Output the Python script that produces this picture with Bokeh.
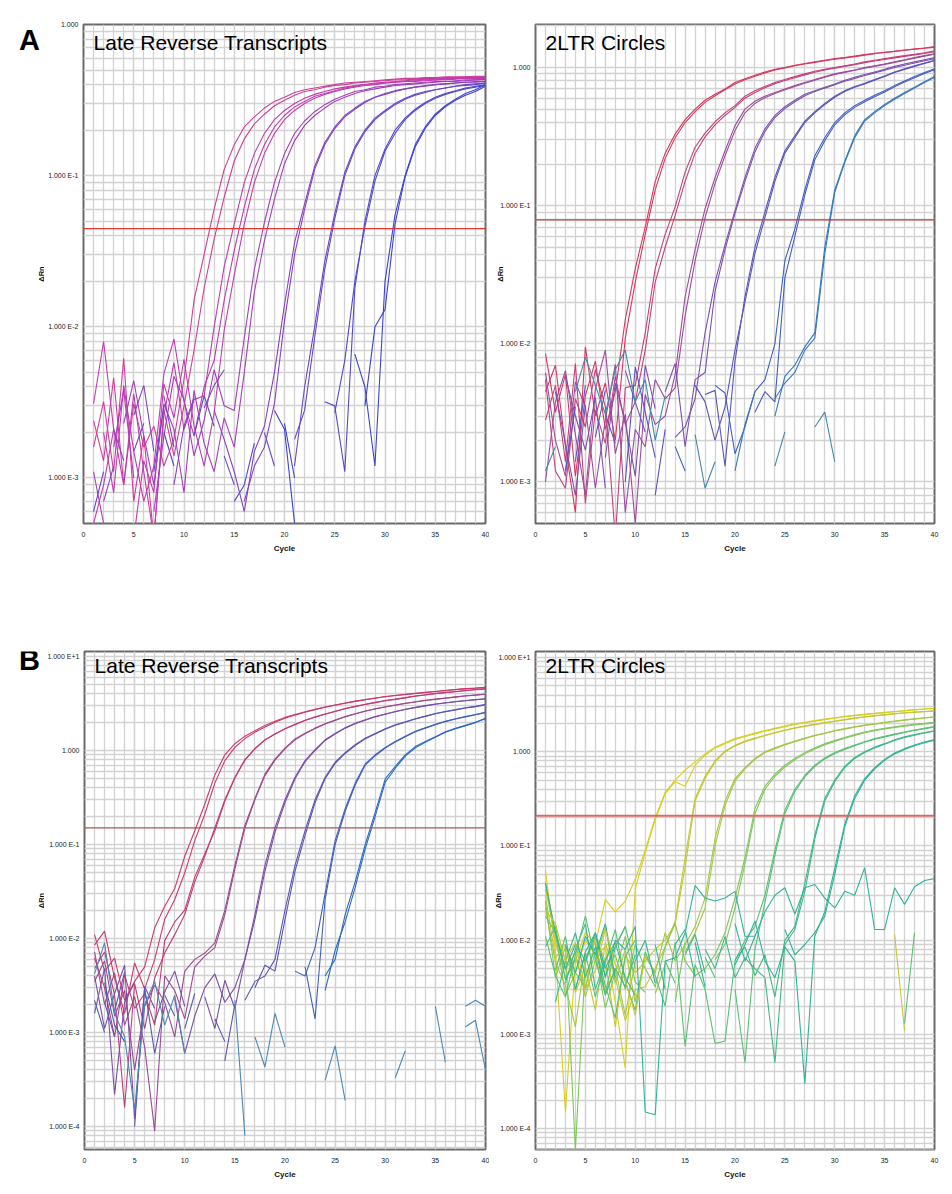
import math
from bokeh.plotting import figure
from bokeh.layouts import column, row
from bokeh.models import Range1d, FixedTicker, Span, Label, CustomJSTickFormatter
from bokeh.embed import file_html
from bokeh.resources import INLINE

N = float("nan")
CYCLES = list(range(1, 41))
X_TICKS = [0, 5, 10, 15, 20, 25, 30, 35, 40]

# ---------------- Panel A : Late Reverse Transcripts ----------------
A_LRT_CURVES = [
    [0.0024, 0.0013, 0.0046, 0.0009, 0.0031, 0.0016, 0.0022, 0.0012, 0.0018, 0.0045,
     0.015, 0.030, 0.060, 0.110, 0.160, 0.210, 0.245, 0.280, 0.310, 0.330,
     0.355, 0.370, 0.380, 0.390, 0.400, 0.410, 0.415, 0.420, 0.425, 0.430,
     0.435, 0.440, 0.440, 0.445, 0.445, 0.450, 0.450, 0.450, 0.455, 0.455],
    [0.0016, 0.0032, 0.0011, 0.0062, 0.0007, 0.0019, 0.0004, 0.0028, 0.0014, 0.0030,
     0.0070, 0.018, 0.038, 0.072, 0.125, 0.175, 0.220, 0.255, 0.290, 0.315,
     0.340, 0.360, 0.370, 0.385, 0.395, 0.400, 0.410, 0.415, 0.420, 0.425,
     0.430, 0.430, 0.435, 0.440, 0.440, 0.445, 0.445, 0.450, 0.450, 0.450],
    [0.0031, 0.0080, 0.0021, 0.0009, 0.0036, 0.0011, 0.0004, 0.0026, 0.0058, 0.0021,
     0.0033, 0.0035, 0.010, 0.025, 0.048, 0.090, 0.140, 0.190, 0.235, 0.270,
     0.300, 0.325, 0.345, 0.360, 0.375, 0.385, 0.395, 0.400, 0.410, 0.415,
     0.420, 0.425, 0.430, 0.435, 0.435, 0.440, 0.440, 0.445, 0.445, 0.450],
    [N, 0.0020, 0.0008, 0.0041, 0.0015, 0.0007, 0.0012, 0.0049, 0.0083, 0.0032,
     0.0019, 0.0040, 0.0060, 0.015, 0.032, 0.062, 0.110, 0.160, 0.210, 0.250,
     0.285, 0.310, 0.335, 0.350, 0.365, 0.380, 0.390, 0.400, 0.405, 0.410,
     0.415, 0.420, 0.425, 0.430, 0.430, 0.435, 0.440, 0.440, 0.445, 0.445],
    [0.0005, 0.0009, 0.0021, N, 0.0004, 0.0013, 0.0008, 0.0042, 0.0025, 0.0061,
     0.0022, 0.0012, 0.0027, 0.0095, 0.022, 0.048, 0.090, 0.140, 0.190, 0.235,
     0.270, 0.300, 0.325, 0.345, 0.360, 0.375, 0.385, 0.395, 0.400, 0.410,
     0.415, 0.420, 0.420, 0.425, 0.430, 0.430, 0.435, 0.440, 0.440, 0.440],
    [N, N, 0.0016, 0.0038, 0.0010, N, 0.0006, 0.0019, 0.0047, 0.0033,
     0.0014, 0.0024, 0.0052, 0.0030, 0.0028, 0.0085, 0.024, 0.049, 0.090, 0.140,
     0.190, 0.230, 0.265, 0.295, 0.320, 0.340, 0.360, 0.370, 0.385, 0.390,
     0.400, 0.405, 0.410, 0.415, 0.420, 0.420, 0.425, 0.430, 0.430, 0.435],
    [0.0011, 0.0005, N, 0.0023, 0.0044, 0.0019, 0.0009, 0.0031, 0.0021, 0.0008,
     0.0038, 0.0017, 0.0011, 0.0025, 0.0016, 0.0050, 0.017, 0.037, 0.070, 0.120,
     0.170, 0.215, 0.250, 0.280, 0.310, 0.330, 0.350, 0.365, 0.375, 0.385,
     0.395, 0.400, 0.405, 0.410, 0.415, 0.420, 0.420, 0.425, 0.430, 0.430],
    [N, 0.0007, 0.0012, N, 0.0026, 0.0041, 0.0015, N, 0.0009, 0.0022,
     0.0034, N, 0.0028, 0.0018, 0.0011, 0.0006, 0.0015, 0.0022, 0.0050, 0.014,
     0.036, 0.065, 0.115, 0.165, 0.210, 0.250, 0.280, 0.310, 0.330, 0.350,
     0.365, 0.375, 0.385, 0.395, 0.400, 0.405, 0.410, 0.415, 0.420, 0.420],
    [0.0009, N, 0.0021, 0.0013, N, 0.0008, N, 0.0035, 0.0016, N,
     N, 0.0029, 0.0041, 0.0052, N, 0.0007, 0.0012, 0.0016, 0.0031, 0.011,
     0.030, 0.060, 0.110, 0.160, 0.205, 0.245, 0.275, 0.305, 0.330, 0.345,
     0.360, 0.375, 0.385, 0.390, 0.400, 0.405, 0.410, 0.415, 0.415, 0.420],
    [N, N, N, 0.0018, N, N, 0.0011, 0.0030, N, 0.0024,
     N, N, N, 0.0014, 0.0009, N, N, N, N, N,
     0.0012, 0.0040, 0.010, 0.027, 0.056, 0.105, 0.155, 0.200, 0.240, 0.270,
     0.300, 0.325, 0.345, 0.360, 0.370, 0.380, 0.390, 0.400, 0.405, 0.410],
    [0.0006, 0.0011, N, N, 0.0015, 0.0023, N, N, N, N,
     0.0019, 0.0035, 0.0022, N, N, N, N, 0.0020, 0.0012, N,
     0.0018, 0.0028, 0.0085, 0.024, 0.052, 0.100, 0.150, 0.195, 0.235, 0.265,
     0.295, 0.320, 0.340, 0.355, 0.370, 0.380, 0.390, 0.395, 0.400, 0.410],
    [N, N, 0.0008, N, N, 0.0013, N, N, N, 0.0027,
     N, N, N, N, 0.0007, 0.0009, 0.0017, N, N, N,
     N, N, N, 0.0032, 0.0030, 0.0011, 0.018, 0.050, 0.100, 0.150,
     0.200, 0.240, 0.275, 0.305, 0.330, 0.350, 0.365, 0.380, 0.390, 0.400],
    [N, 0.0009, N, N, N, N, N, 0.0020, 0.0012, N,
     N, N, 0.0016, N, N, N, N, 0.0021, N, N,
     N, N, N, N, 0.0027, 0.0060, 0.020, 0.046, 0.092, 0.145,
     0.190, 0.235, 0.270, 0.300, 0.325, 0.345, 0.360, 0.375, 0.385, 0.395],
    [N, N, N, N, 0.0014, N, N, N, N, N,
     0.0030, N, N, N, N, N, N, N, 0.0028, 0.0021,
     0.0005, N, N, N, N, N, 0.0066, 0.0040, 0.0012, 0.020,
     0.055, 0.100, 0.160, 0.210, 0.255, 0.290, 0.320, 0.350, 0.370, 0.400],
    [N, N, N, N, N, N, N, N, N, N,
     N, 0.0024, N, N, N, N, N, N, N, 0.0023,
     0.0010, N, N, N, N, N, N, 0.0030, 0.010, 0.013,
     0.048, 0.098, 0.155, 0.205, 0.250, 0.285, 0.315, 0.340, 0.360, 0.390],
]
A_LRT_GROUPS = [0, 0, 1, 1, 1, 2, 2, 3, 3, 4, 4, 5, 5, 6, 6]
A_LRT_COLORS = ["#d23c98", "#c03cae", "#a43eba", "#8642c2", "#6846c8", "#5248cc", "#3c42d2"]
A_LRT_THRESHOLD = 0.0446

# ---------------- Panel A : 2LTR Circles ----------------
A_2LTR_CURVES = [
    [0.0085, 0.0032, 0.0060, 0.0011, 0.0042, 0.0075, 0.0024, 0.0045, 0.015, 0.035,
     0.070, 0.150, 0.240, 0.330, 0.420, 0.500, 0.580, 0.640, 0.700, 0.780,
     0.830, 0.880, 0.930, 0.970, 1.000, 1.040, 1.070, 1.100, 1.130, 1.160,
     1.180, 1.210, 1.240, 1.270, 1.290, 1.310, 1.340, 1.360, 1.380, 1.400],
    [0.0045, 0.0070, 0.0018, 0.0006, 0.0095, 0.0030, 0.0052, 0.0020, 0.0110, 0.028,
     0.062, 0.130, 0.220, 0.310, 0.400, 0.480, 0.560, 0.625, 0.690, 0.760,
     0.815, 0.865, 0.915, 0.960, 0.995, 1.030, 1.060, 1.090, 1.120, 1.150,
     1.175, 1.200, 1.230, 1.260, 1.285, 1.310, 1.335, 1.360, 1.385, 1.420],
    [0.0055, 0.0012, 0.0009, 0.0040, 0.0025, 0.0065, 0.0035, 0.0004, 0.0048, 0.0050,
     0.012, 0.035, 0.062, 0.098, 0.175, 0.265, 0.335, 0.405, 0.470, 0.530,
     0.620, 0.680, 0.730, 0.780, 0.820, 0.860, 0.900, 0.940, 0.970, 1.000,
     1.030, 1.060, 1.100, 1.130, 1.160, 1.190, 1.220, 1.250, 1.280, 1.320],
    [0.0028, 0.0050, 0.0014, 0.0072, 0.0007, 0.0033, 0.0019, 0.0058, 0.0026, 0.0038,
     0.0090, 0.028, 0.050, 0.085, 0.150, 0.240, 0.315, 0.385, 0.450, 0.515,
     0.600, 0.660, 0.715, 0.765, 0.805, 0.845, 0.885, 0.925, 0.960, 0.990,
     1.020, 1.050, 1.085, 1.115, 1.145, 1.175, 1.205, 1.235, 1.265, 1.300],
    [0.0010, 0.0038, 0.0064, 0.0022, 0.0008, 0.0047, 0.0090, 0.0016, 0.0031, 0.0005,
     0.0043, 0.0026, 0.0030, 0.0060, 0.022, 0.048, 0.095, 0.160, 0.250, 0.380,
     0.500, 0.570, 0.620, 0.660, 0.700, 0.740, 0.780, 0.820, 0.860, 0.900,
     0.930, 0.960, 1.000, 1.030, 1.060, 1.100, 1.140, 1.180, 1.220, 1.260],
    [0.0062, 0.0020, 0.0011, 0.0053, 0.0035, 0.0009, 0.0028, 0.0071, 0.0006, 0.0024,
     0.0018, 0.0055, 0.0040, 0.0048, 0.016, 0.040, 0.082, 0.145, 0.230, 0.350,
     0.470, 0.550, 0.605, 0.650, 0.690, 0.730, 0.770, 0.810, 0.850, 0.890,
     0.920, 0.955, 0.990, 1.020, 1.055, 1.090, 1.130, 1.170, 1.210, 1.250],
    [N, 0.0045, 0.0019, 0.0008, 0.0036, N, 0.0015, 0.0052, 0.0027, 0.0011,
     0.0070, 0.0034, N, 0.0021, 0.0025, 0.0040, 0.012, 0.028, 0.052, 0.092,
     0.160, 0.260, 0.360, 0.450, 0.520, 0.580, 0.640, 0.680, 0.720, 0.760,
     0.810, 0.850, 0.890, 0.930, 0.970, 1.020, 1.060, 1.100, 1.140, 1.180],
    [0.0013, N, 0.0058, 0.0030, 0.0017, 0.0041, 0.0009, N, 0.0064, 0.0038,
     0.0023, N, 0.0045, 0.0072, 0.0018, 0.0055, 0.0062, 0.024, 0.048, 0.088,
     0.150, 0.245, 0.345, 0.435, 0.505, 0.565, 0.625, 0.670, 0.710, 0.750,
     0.795, 0.835, 0.875, 0.915, 0.955, 1.000, 1.040, 1.080, 1.120, 1.160],
    [N, N, 0.0012, 0.0035, N, 0.0021, 0.0046, N, 0.0010, 0.0068,
     0.0032, 0.0015, N, 0.0009, N, 0.0050, 0.0038, 0.0020, 0.0035, 0.0090,
     0.020, 0.045, 0.082, 0.150, 0.240, 0.310, 0.400, 0.470, 0.540, 0.610,
     0.670, 0.720, 0.760, 0.810, 0.860, 0.920, 0.970, 1.020, 1.070, 1.120],
    [0.0026, N, N, 0.0014, 0.0050, N, 0.0031, 0.0019, N, 0.0042,
     N, 0.0008, 0.0024, N, 0.0011, N, 0.0043, 0.0046, 0.0013, 0.0075,
     0.022, 0.050, 0.090, 0.160, 0.250, 0.320, 0.410, 0.480, 0.550, 0.620,
     0.680, 0.730, 0.770, 0.820, 0.870, 0.930, 0.980, 1.030, 1.080, 1.130],
    [N, 0.0016, N, N, 0.0027, N, 0.0012, N, N, 0.0033,
     N, N, N, 0.0018, 0.0012, N, N, 0.0050, 0.0044, 0.0016,
     0.0025, 0.0045, 0.0055, 0.010, 0.040, 0.068, 0.130, 0.230, 0.310, 0.400,
     0.470, 0.530, 0.580, 0.630, 0.680, 0.740, 0.800, 0.860, 0.920, 0.980],
    [N, N, N, 0.0009, N, N, N, 0.0024, N, N,
     0.0016, N, N, N, N, N, 0.0030, N, 0.0036, N,
     N, 0.0032, 0.0045, 0.0038, 0.030, 0.060, 0.120, 0.215, 0.295, 0.385,
     0.455, 0.515, 0.565, 0.615, 0.665, 0.725, 0.785, 0.845, 0.905, 0.965],
    [N, N, N, N, N, N, N, N, N, N,
     N, N, N, 0.0010, N, N, N, N, N, 0.0012,
     0.0026, 0.0045, N, 0.0030, 0.0058, 0.0070, 0.0095, 0.012, 0.050, 0.130,
     0.210, 0.320, 0.420, 0.480, 0.540, 0.600, 0.660, 0.720, 0.790, 0.860],
    [0.0011, N, N, N, N, N, N, N, N, N,
     N, N, N, N, N, N, N, N, N, N,
     N, N, N, 0.0040, 0.0052, 0.0062, 0.0090, 0.011, 0.045, 0.125,
     0.205, 0.310, 0.410, 0.470, 0.530, 0.590, 0.650, 0.710, 0.780, 0.850],
    [0.0012, 0.0018, N, 0.0045, 0.0080, 0.0050, 0.0031, 0.0065, 0.0090, 0.0038,
     0.0055, 0.0020, 0.0042, N, N, 0.0022, 0.0009, 0.0014, N, N,
     N, N, N, 0.0013, 0.0023, N, N, 0.0025, 0.0032, 0.0014,
     N, N, N, N, N, N, N, N, N, N],
]
A_2LTR_GROUPS = [0, 0, 1, 1, 2, 2, 3, 3, 4, 4, 5, 5, 6, 6, 7]
A_2LTR_COLORS = ["#d8365e", "#c4407a", "#9c4c9c", "#7c50ae", "#5a54bc", "#3f5ec4", "#3878bc", "#3f8aa8"]
A_2LTR_THRESHOLD = 0.079

# ---------------- Panel B : Late Reverse Transcripts ----------------
B_LRT_CURVES = [
    [0.0110, 0.0045, 0.0062, 0.0022, 0.0035, 0.0050, 0.013, 0.022, 0.034, 0.075,
     0.140, 0.270, 0.550, 0.900, 1.180, 1.420, 1.620, 1.850, 2.050, 2.250,
     2.420, 2.580, 2.750, 2.900, 3.050, 3.200, 3.350, 3.480, 3.620, 3.750,
     3.850, 3.950, 4.050, 4.150, 4.250, 4.350, 4.450, 4.550, 4.620, 4.700],
    [0.0085, 0.0120, 0.0038, 0.0016, 0.0055, 0.0029, 0.0060, 0.016, 0.026, 0.050,
     0.110, 0.210, 0.450, 0.780, 1.080, 1.340, 1.560, 1.780, 2.000, 2.200,
     2.380, 2.550, 2.720, 2.880, 3.030, 3.180, 3.330, 3.470, 3.600, 3.730,
     3.840, 3.940, 4.040, 4.140, 4.240, 4.340, 4.440, 4.520, 4.600, 4.680],
    [0.0062, 0.0030, 0.0009, 0.0041, 0.0018, 0.0026, 0.0012, 0.0095, 0.015, 0.020,
     0.045, 0.080, 0.140, 0.290, 0.510, 0.790, 1.040, 1.290, 1.500, 1.700,
     1.900, 2.100, 2.280, 2.450, 2.620, 2.800, 2.950, 3.100, 3.250, 3.400,
     3.520, 3.650, 3.800, 3.920, 4.050, 4.150, 4.250, 4.350, 4.450, 4.550],
    [0.0048, 0.0072, 0.0025, 0.00016, 0.0033, 0.0011, 0.0038, 0.0070, 0.0110, 0.018,
     0.040, 0.075, 0.150, 0.300, 0.520, 0.800, 1.050, 1.300, 1.500, 1.700,
     1.880, 2.080, 2.260, 2.430, 2.600, 2.780, 2.930, 3.080, 3.230, 3.380,
     3.500, 3.630, 3.770, 3.890, 4.020, 4.120, 4.220, 4.320, 4.420, 4.500],
    [0.0035, 0.0058, 0.0015, 0.0028, 0.0004, 0.0019, 0.0032, 0.0021, 0.0009, 0.0045,
     0.0060, 0.0070, 0.0090, 0.020, 0.060, 0.160, 0.310, 0.560, 0.810, 1.060,
     1.330, 1.530, 1.730, 1.930, 2.110, 2.300, 2.460, 2.630, 2.780, 2.920,
     3.050, 3.180, 3.300, 3.420, 3.520, 3.620, 3.720, 3.820, 3.900, 3.980],
    [0.0072, 0.0020, 0.0043, 0.0012, 0.0024, 0.0007, 0.00009, 0.0040, 0.0028, 0.0014,
     0.0050, 0.0065, 0.0080, 0.018, 0.055, 0.150, 0.300, 0.540, 0.790, 1.040,
     1.300, 1.510, 1.710, 1.910, 2.090, 2.280, 2.440, 2.610, 2.760, 2.900,
     3.030, 3.160, 3.280, 3.400, 3.500, 3.600, 3.700, 3.800, 3.880, 3.960],
    [0.0040, 0.0011, 0.0026, 0.0052, 0.00012, 0.0031, 0.0018, N, 0.0023, 0.0006,
     0.0015, 0.0030, 0.0042, 0.0021, 0.0030, 0.0060, 0.018, 0.060, 0.150, 0.300,
     0.520, 0.780, 1.020, 1.300, 1.520, 1.750, 1.950, 2.120, 2.300, 2.450,
     2.600, 2.750, 2.880, 3.000, 3.120, 3.220, 3.320, 3.400, 3.480, 3.550],
    [0.0016, 0.0048, 0.00022, 0.0021, 0.0034, N, 0.0013, 0.0027, 0.0045, 0.0019,
     N, 0.0024, 0.0011, 0.0036, 0.0018, 0.0060, 0.016, 0.052, 0.135, 0.280,
     0.500, 0.760, 1.000, 1.280, 1.500, 1.730, 1.930, 2.100, 2.280, 2.430,
     2.580, 2.730, 2.860, 2.980, 3.100, 3.200, 3.300, 3.380, 3.460, 3.530],
    [N, 0.0021, 0.0009, N, 0.0001, 0.0030, 0.0006, 0.0019, N, 0.0011,
     0.0026, N, 0.0014, 0.0008, N, 0.0022, 0.0035, 0.0040, 0.0060, 0.020,
     0.060, 0.140, 0.300, 0.520, 0.750, 0.950, 1.150, 1.350, 1.520, 1.700,
     1.880, 2.020, 2.180, 2.320, 2.480, 2.600, 2.720, 2.850, 2.950, 3.100],
    [0.0029, N, 0.0017, 0.0044, N, 0.0010, N, 0.0025, 0.0015, N,
     N, 0.0012, N, 0.0005, 0.0020, N, 0.0030, 0.0052, 0.0045, 0.016,
     0.052, 0.125, 0.280, 0.500, 0.730, 0.930, 1.130, 1.330, 1.500, 1.680,
     1.860, 2.000, 2.160, 2.300, 2.460, 2.580, 2.700, 2.830, 2.930, 3.050],
    [0.0022, 0.0010, N, N, 0.0032, N, 0.0015, N, N, 0.0009,
     N, N, N, 0.0003, N, N, N, N, N, N,
     0.0045, 0.0040, 0.0080, 0.030, 0.110, 0.240, 0.450, 0.720, 0.900, 1.080,
     1.250, 1.420, 1.600, 1.750, 1.900, 2.050, 2.180, 2.300, 2.420, 2.550],
    [N, 0.0034, 0.0012, 0.0008, N, 0.0021, N, N, 0.0014, N,
     N, 0.0007, N, N, N, 0.0011, N, 0.0016, N, N,
     N, 0.0050, 0.0014, 0.026, 0.100, 0.225, 0.430, 0.700, 0.880, 1.060,
     1.230, 1.400, 1.580, 1.730, 1.880, 2.030, 2.160, 2.280, 2.400, 2.530],
    [N, N, 0.0016, N, N, N, 0.0006, N, N, N,
     N, N, N, N, N, N, N, N, N, N,
     N, N, N, 0.0040, 0.0060, 0.018, 0.040, 0.100, 0.220, 0.500,
     0.680, 0.900, 1.100, 1.250, 1.400, 1.580, 1.720, 1.850, 2.000, 2.200],
    [0.0025, N, N, N, N, N, N, N, N, N,
     N, N, N, N, N, N, N, N, N, N,
     N, N, N, 0.0028, 0.0075, 0.015, 0.035, 0.090, 0.200, 0.460,
     0.650, 0.870, 1.070, 1.220, 1.380, 1.560, 1.700, 1.830, 1.980, 2.180],
    [N, N, N, N, N, N, N, N, N, N,
     N, N, N, N, 0.0022, 0.00008, N, N, N, N,
     N, N, N, 0.00031, 0.00072, 0.00019, N, N, N, N,
     0.00033, 0.00064, N, N, N, N, N, 0.0019, 0.0022, 0.0019],
    [0.0042, 0.0090, 0.0016, 0.0009, 0.00015, 0.0020, 0.0035, 0.0012, 0.0025, 0.0006,
     N, N, N, N, N, N, 0.0009, 0.00043, 0.0016, 0.0007,
     N, N, N, N, N, N, N, N, N, N,
     N, N, N, N, 0.0019, 0.00048, N, 0.00115, 0.00135, 0.0004],
]
B_LRT_GROUPS = [0, 0, 1, 1, 2, 2, 3, 3, 4, 4, 5, 5, 6, 6, 7, 7]
B_LRT_COLORS = ["#d0386a", "#c03c78", "#9c4a90", "#7a4ea6", "#5a56b4", "#4060bc", "#2c68c4", "#4a88b8"]
B_LRT_THRESHOLD = 0.15

# ---------------- Panel B : 2LTR Circles ----------------
B_2LTR_CURVES = [
    [0.055, 0.0076, 0.00015, 0.0060, 0.012, 0.0090, 0.027, 0.020, 0.026, 0.044,
     0.090, 0.200, 0.370, 0.500, 0.640, 0.780, 0.950, 1.120, 1.250, 1.380,
     1.480, 1.580, 1.680, 1.780, 1.880, 1.980, 2.060, 2.140, 2.220, 2.300,
     2.380, 2.440, 2.500, 2.560, 2.620, 2.680, 2.740, 2.800, 2.850, 2.900],
    [0.040, 0.012, 0.0060, 0.0045, 0.0100, 0.0070, 0.0085, 0.0022, 0.00044, 0.035,
     0.085, 0.190, 0.360, 0.480, 0.430, 0.720, 0.920, 1.100, 1.220, 1.350,
     1.450, 1.550, 1.650, 1.750, 1.850, 1.950, 2.030, 2.110, 2.190, 2.270,
     2.350, 2.420, 2.480, 2.540, 2.600, 2.660, 2.720, 2.780, 2.840, 2.880],
    [0.042, 0.0095, 0.0040, 0.0065, 0.0030, 0.0110, 0.0060, 0.0012, 0.0070, 0.0045,
     0.0060, 0.0080, 0.010, 0.015, 0.060, 0.300, 0.520, 0.780, 1.000, 1.150,
     1.280, 1.380, 1.480, 1.580, 1.680, 1.780, 1.860, 1.940, 2.020, 2.100,
     2.180, 2.260, 2.340, 2.400, 2.460, 2.520, 2.580, 2.620, 2.660, 2.700],
    [0.030, 0.0065, 0.0090, 0.0028, 0.0052, 0.0018, 0.0095, 0.0040, 0.0014, 0.0030,
     0.0032, 0.0050, 0.0085, 0.016, 0.075, 0.320, 0.550, 0.800, 1.020, 1.170,
     1.300, 1.400, 1.500, 1.600, 1.700, 1.800, 1.880, 1.960, 2.040, 2.120,
     2.200, 2.280, 2.350, 2.420, 2.480, 2.540, 2.600, 2.640, 2.680, 2.720],
    [0.035, 0.0110, 0.0048, 0.0075, 0.0025, 0.0062, 0.0140, 0.0035, 0.0080, 0.0022,
     0.0068, 0.0045, 0.0120, 0.0060, 0.0090, 0.014, 0.028, 0.120, 0.300, 0.520,
     0.680, 0.850, 1.000, 1.100, 1.200, 1.300, 1.400, 1.500, 1.580, 1.680,
     1.760, 1.840, 1.920, 1.980, 2.050, 2.120, 2.180, 2.240, 2.300, 2.350],
    [0.022, 0.0058, 0.0033, 0.0012, 0.0068, 0.0095, 0.0028, 0.0050, 0.0016, 0.0060,
     N, 0.0027, 0.0055, N, 0.0075, 0.012, 0.022, 0.100, 0.270, 0.490,
     0.660, 0.830, 0.980, 1.080, 1.180, 1.280, 1.380, 1.480, 1.560, 1.660,
     1.740, 1.820, 1.900, 1.960, 2.030, 2.100, 2.160, 2.220, 2.280, 2.330],
    [0.026, 0.0040, 0.0085, 0.00006, 0.0058, 0.0110, 0.0042, 0.0070, 0.0030, 0.0090,
     0.0050, 0.0032, 0.0085, 0.0150, 0.0060, 0.0042, 0.0050, 0.0070, 0.0120, 0.028,
     0.075, 0.250, 0.430, 0.580, 0.720, 0.850, 0.980, 1.100, 1.220, 1.320,
     1.420, 1.520, 1.620, 1.700, 1.780, 1.840, 1.900, 1.960, 2.000, 2.050],
    [0.018, 0.0120, 0.0026, 0.0045, 0.0032, 0.0075, 0.0019, 0.0046, 0.0110, 0.0036,
     0.0028, N, N, 0.0022, 0.0095, N, N, 0.0062, 0.0090, 0.022,
     0.065, 0.220, 0.400, 0.550, 0.690, 0.820, 0.950, 1.070, 1.190, 1.290,
     1.390, 1.490, 1.590, 1.670, 1.750, 1.810, 1.870, 1.930, 1.980, 2.020],
    [N, 0.0048, 0.0110, 0.0030, 0.0072, 0.0025, 0.0058, 0.0130, 0.0036, 0.0018,
     0.0075, 0.0042, 0.0020, 0.0095, 0.00075, 0.0055, 0.0030, 0.00080, 0.00085, 0.0060,
     0.0100, 0.014, 0.030, 0.090, 0.240, 0.400, 0.560, 0.720, 0.860, 0.980,
     1.080, 1.180, 1.280, 1.380, 1.460, 1.540, 1.620, 1.700, 1.780, 1.850],
    [0.0085, 0.0140, 0.0038, 0.0062, N, 0.0090, 0.0033, 0.0015, 0.0068, 0.0100,
     N, N, 0.0060, 0.0035, N, N, 0.0066, 0.0040, N, 0.0030,
     0.00050, 0.0080, 0.025, 0.080, 0.220, 0.380, 0.540, 0.700, 0.840, 0.960,
     1.060, 1.160, 1.260, 1.360, 1.440, 1.520, 1.600, 1.680, 1.760, 1.830],
    [N, 0.0022, 0.0060, 0.0120, 0.0040, 0.0085, 0.0026, 0.0050, 0.0032, 0.0070,
     N, 0.0090, 0.0030, N, N, N, 0.0080, 0.0050, 0.0110, 0.0040,
     0.0065, 0.0050, 0.0040, 0.00050, 0.0090, 0.0130, 0.033, 0.120, 0.300, 0.480,
     0.680, 0.850, 0.980, 1.100, 1.200, 1.320, 1.420, 1.500, 1.580, 1.650],
    [0.0120, N, 0.0035, 0.0080, 0.0150, 0.0030, 0.0062, 0.0095, 0.0040, 0.0026,
     N, N, N, N, 0.0070, 0.0115, 0.0045, N, N, 0.0062,
     0.0085, 0.0042, 0.0070, 0.0025, 0.0100, 0.0140, 0.040, 0.130, 0.320, 0.500,
     0.700, 0.870, 1.000, 1.120, 1.220, 1.340, 1.440, 1.520, 1.600, 1.670],
    [N, N, 0.0090, 0.0045, 0.0110, 0.0070, 0.0150, 0.0040, N, 0.0060,
     0.0100, 0.0035, N, N, N, 0.0095, 0.0032, N, N, 0.0055,
     0.0090, 0.0160, 0.0060, 0.0040, 0.0085, 0.0060, 0.00030, 0.011, 0.020, 0.058,
     0.170, 0.340, 0.520, 0.680, 0.830, 0.970, 1.080, 1.180, 1.270, 1.350],
    [N, 0.0060, N, 0.0030, 0.0075, 0.0120, 0.0050, 0.0085, 0.0140, N,
     N, N, N, 0.0090, 0.0130, 0.0040, N, N, N, 0.0150,
     0.0060, 0.0110, N, N, 0.0130, 0.0070, 0.0090, 0.0120, 0.018, 0.050,
     0.160, 0.320, 0.500, 0.660, 0.810, 0.950, 1.060, 1.160, 1.250, 1.330],
    [0.040, 0.012, 0.0050, 0.0090, 0.0060, 0.012, 0.0040, 0.010, 0.0080, 0.014,
     0.00015, 0.00014, 0.0060, 0.0065, 0.012, 0.038, 0.028, 0.026, 0.028, 0.033,
     0.011, 0.011, 0.020, 0.030, 0.036, 0.019, 0.036, 0.039, 0.028, 0.022,
     0.033, 0.030, 0.059, 0.013, 0.013, 0.036, 0.024, 0.037, 0.043, 0.045],
    [0.021, 0.015, 0.0060, 0.0095, 0.0030, 0.0048, 0.013, 0.0055, 0.0038, 0.0016,
     0.0070, N, N, N, N, N, N, N, N, N,
     N, N, N, N, N, N, N, N, N, N,
     N, N, N, N, N, 0.0115, 0.0011, N, N, N],
    [0.0110, 0.0042, 0.0025, 0.0070, 0.0180, 0.0062, 0.0027, 0.0085, 0.0140, 0.0050,
     N, N, N, N, N, N, N, N, N, N,
     N, N, N, N, N, N, N, N, N, N,
     N, N, N, N, N, N, 0.0013, 0.012, N, N],
]
B_2LTR_GROUPS = [0, 0, 1, 1, 2, 2, 3, 3, 4, 4, 5, 5, 6, 6, 7, 1, 4]
B_2LTR_COLORS = ["#d6cf1e", "#c2c832", "#a4c644", "#7ec65a", "#58c072", "#3eb886", "#2fb298", "#2fb39c"]
B_2LTR_THRESHOLD = 0.21

FONT = "Liberation Sans"

TICK_JS = """
const e = Math.round(Math.log10(tick));
if (e === 0) { return "1.000"; }
return "1.000 E" + (e > 0 ? "+" : "") + e;
"""


def make_panel(curves, groups, colors, threshold, thr_color, thr_width,
               y_lo, y_hi, title, title_y, bl, br, bt, bb, fw, fh, ylabel):
    p = figure(width=bl + fw + br, height=bt + fh + bb, y_axis_type="log",
               x_range=Range1d(0, 40), y_range=Range1d(y_lo, y_hi),
               output_backend="svg", toolbar_location=None,
               min_border_left=bl, min_border_right=br,
               min_border_top=bt, min_border_bottom=bb,
               background_fill_color="white", border_fill_color="white")

    d_lo = math.floor(math.log10(y_lo))
    d_hi = math.ceil(math.log10(y_hi))
    majors = [10.0 ** d for d in range(d_lo, d_hi + 1)]
    minors = [m * 10.0 ** d for d in range(d_lo, d_hi + 1) for m in range(2, 10)]
    p.yaxis.ticker = FixedTicker(ticks=majors, minor_ticks=minors)
    p.yaxis.formatter = CustomJSTickFormatter(code=TICK_JS)
    p.xaxis.ticker = FixedTicker(ticks=X_TICKS, minor_ticks=list(range(0, 41)))

    for g in (p.xgrid, p.ygrid):
        g.grid_line_color = "#d2d2d2"
        g.grid_line_width = 1.3
        g.minor_grid_line_color = "#d2d2d2"
        g.minor_grid_line_width = 1.3

    for ax in (p.xaxis, p.yaxis):
        ax.axis_line_color = None
        ax.major_tick_line_color = None
        ax.minor_tick_line_color = None
        ax.major_tick_out = 0
        ax.major_tick_in = 0
        ax.minor_tick_out = 0
        ax.minor_tick_in = 0
        ax.major_label_text_font = FONT
        ax.major_label_text_font_size = "7px"
        ax.major_label_text_color = "#222222"
        ax.axis_label_text_font = FONT
        ax.axis_label_text_font_style = "bold"
        ax.axis_label_text_color = "#111111"
    p.yaxis.major_label_standoff = 5
    p.xaxis.major_label_standoff = 8
    p.xaxis.axis_label = "Cycle"
    p.xaxis.axis_label_text_font_size = "8px"
    p.xaxis.axis_label_standoff = 4
    if ylabel:
        p.yaxis.axis_label = "ΔRn"
        p.yaxis.axis_label_text_font_size = "7.5px"
        p.yaxis.axis_label_standoff = -8

    p.outline_line_color = "#6a6a6a"
    p.outline_line_width = 2

    for vals, g in zip(curves, groups):
        p.line(CYCLES, vals, line_color=colors[g], line_width=1.1)

    p.add_layout(Span(location=threshold, dimension="width",
                      line_color=thr_color, line_width=thr_width))

    p.add_layout(Label(x=1.0, y=title_y, text=title, text_font=FONT,
                       text_font_size="21px", text_color="black",
                       text_baseline="alphabetic", text_align="left"))
    return p


def make_gutter(letter, width, height, frame_h, letter_x, letter_y, ylabel_x):
    # narrow companion figure (its frame lines up with the neighbouring panel's frame)
    g = figure(width=width, height=height, x_range=Range1d(0, width),
               y_range=Range1d(0, frame_h), output_backend="svg",
               toolbar_location=None, x_axis_location=None, y_axis_location=None,
               min_border=0, min_border_left=0, min_border_right=0,
               min_border_top=0, min_border_bottom=0,
               background_fill_color="white", border_fill_color="white")
    g.outline_line_color = None
    g.grid.visible = False
    g.add_layout(Label(x=letter_x, y=letter_y, text=letter, text_font=FONT,
                       text_font_size="29px", text_font_style="bold",
                       text_color="black", text_align="center",
                       text_baseline="alphabetic"))
    g.add_layout(Label(x=ylabel_x, y=frame_h / 2, text="ΔRn", angle=math.pi / 2,
                       text_font=FONT, text_font_size="7.5px", text_font_style="bold",
                       text_color="#111111", text_align="center",
                       text_baseline="middle"))
    return g


GUTTER_W = 44
LEFT_BORDER = 83 - GUTTER_W
TOP_H = 24 + 499 + 60
BOT_H = 68 + 498 + 35

gA = make_gutter("A", GUTTER_W, TOP_H, 499, 29, 484, 40.5)
gB = make_gutter("B", GUTTER_W, BOT_H, 498, 29, 490, 40.5)

p1 = make_panel(A_LRT_CURVES, A_LRT_GROUPS, A_LRT_COLORS, A_LRT_THRESHOLD, "#e8322c", 1.2,
                5.0e-4, 1.0, "Late Reverse Transcripts", 0.760,
                LEFT_BORDER, 4, 24, 60, 402, 499, False)
p2 = make_panel(A_2LTR_CURVES, A_2LTR_GROUPS, A_2LTR_COLORS, A_2LTR_THRESHOLD, "#c43a3a", 1.2,
                5.0e-4, 2.05, "2LTR Circles", 1.517,
                46, 10, 24, 60, 399, 499, True)
p3 = make_panel(B_LRT_CURVES, B_LRT_GROUPS, B_LRT_COLORS, B_LRT_THRESHOLD, "#a85454", 1.2,
                5.7e-5, 11.3, "Late Reverse Transcripts", 8.02,
                LEFT_BORDER, 4, 68, 35, 402, 498, False)
p4 = make_panel(B_2LTR_CURVES, B_2LTR_GROUPS, B_2LTR_COLORS, B_2LTR_THRESHOLD, "#d46a6a", 2.0,
                6.0e-5, 11.6, "2LTR Circles", 8.22,
                46, 10, 68, 35, 399, 498, True)

layout = column(row(gA, p1, p2), row(gB, p3, p4))
open("out.html", "w").write(file_html(layout, INLINE))
